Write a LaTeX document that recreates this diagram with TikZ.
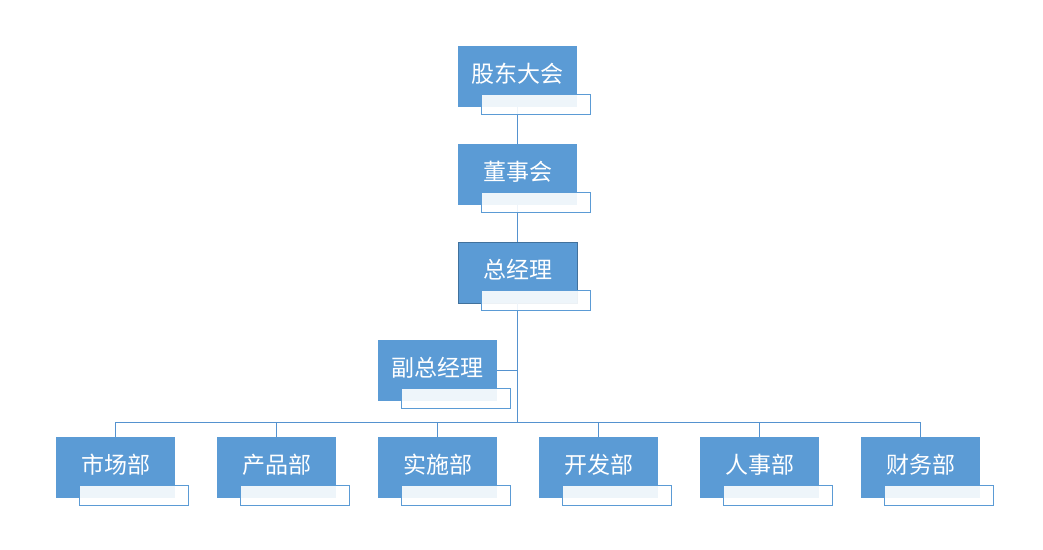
\documentclass[tikz,border=0pt]{standalone}
\usepackage{fontspec}
\newfontfamily\cjk{Noto Sans CJK SC}
\usetikzlibrary{positioning, calc}

\definecolor{boxblue}{HTML}{5B9BD5}
\definecolor{edgeblue}{HTML}{41719C}
\definecolor{lineblue}{HTML}{5592CF}

\tikzset{
  post/.style={rectangle, fill=boxblue, text=white, minimum width=119pt, minimum height=61pt,
    inner sep=0pt, outer sep=0pt, text height=20pt, text depth=9pt,
    font=\cjk\fontsize{23}{27}\selectfont},
  subpost/.style={rectangle, draw=boxblue, line width=0.8pt, fill=white, fill opacity=0.9,
    minimum width=109pt, minimum height=20pt, inner sep=0pt, outer sep=0pt, anchor=north west},
  link/.style={draw=lineblue, line width=0.9pt}
}

\begin{document}
\begin{tikzpicture}[x=1pt, y=1pt, node distance=37pt]
        \useasboundingbox (0,0) rectangle (1043,-549);

        \node[post] (gd) at (517.5,-76.5) {股东大会};
        \node[post] (dsh) [below=of gd] {董事会};
        \node[post, draw=edgeblue, line width=0.8pt] (gm) [below=of dsh] {总经理};
        \node[post] (vgm) [below=of gm, xshift=-80pt] {副总经理};

        \node[post] (ss) [below=36pt of vgm] {实施部};
        \node[post] (cp) [left=42pt of ss] {产品部};
        \node[post] (sc) [left=42pt of cp] {市场部};
        \node[post] (kf) [right=42pt of ss] {开发部};
        \node[post] (rs) [right=42pt of kf] {人事部};
        \node[post] (cw) [right=42pt of rs] {财务部};

        \coordinate (bus) at (gm.south |- 0,-422);

        % connectors
        \draw[link] (gd) -- (dsh);
        \draw[link] (dsh) -- (gm);
        \draw[link] (gm.south) -- (bus);
        \draw[link] (vgm.east) -- (vgm.east -| bus);
        \foreach \d in {sc, cp, ss, kf, rs, cw} {
                \draw[link] (bus) -| (\d.north);
        }

        % text boxes
        \foreach \n in {gd, dsh, gm, vgm, sc, cp, ss, kf, rs, cw} {
                \node[subpost] (\n-t) at ([xshift=23pt, yshift=13pt]\n.south west) {};
        }
\end{tikzpicture}
\end{document}
